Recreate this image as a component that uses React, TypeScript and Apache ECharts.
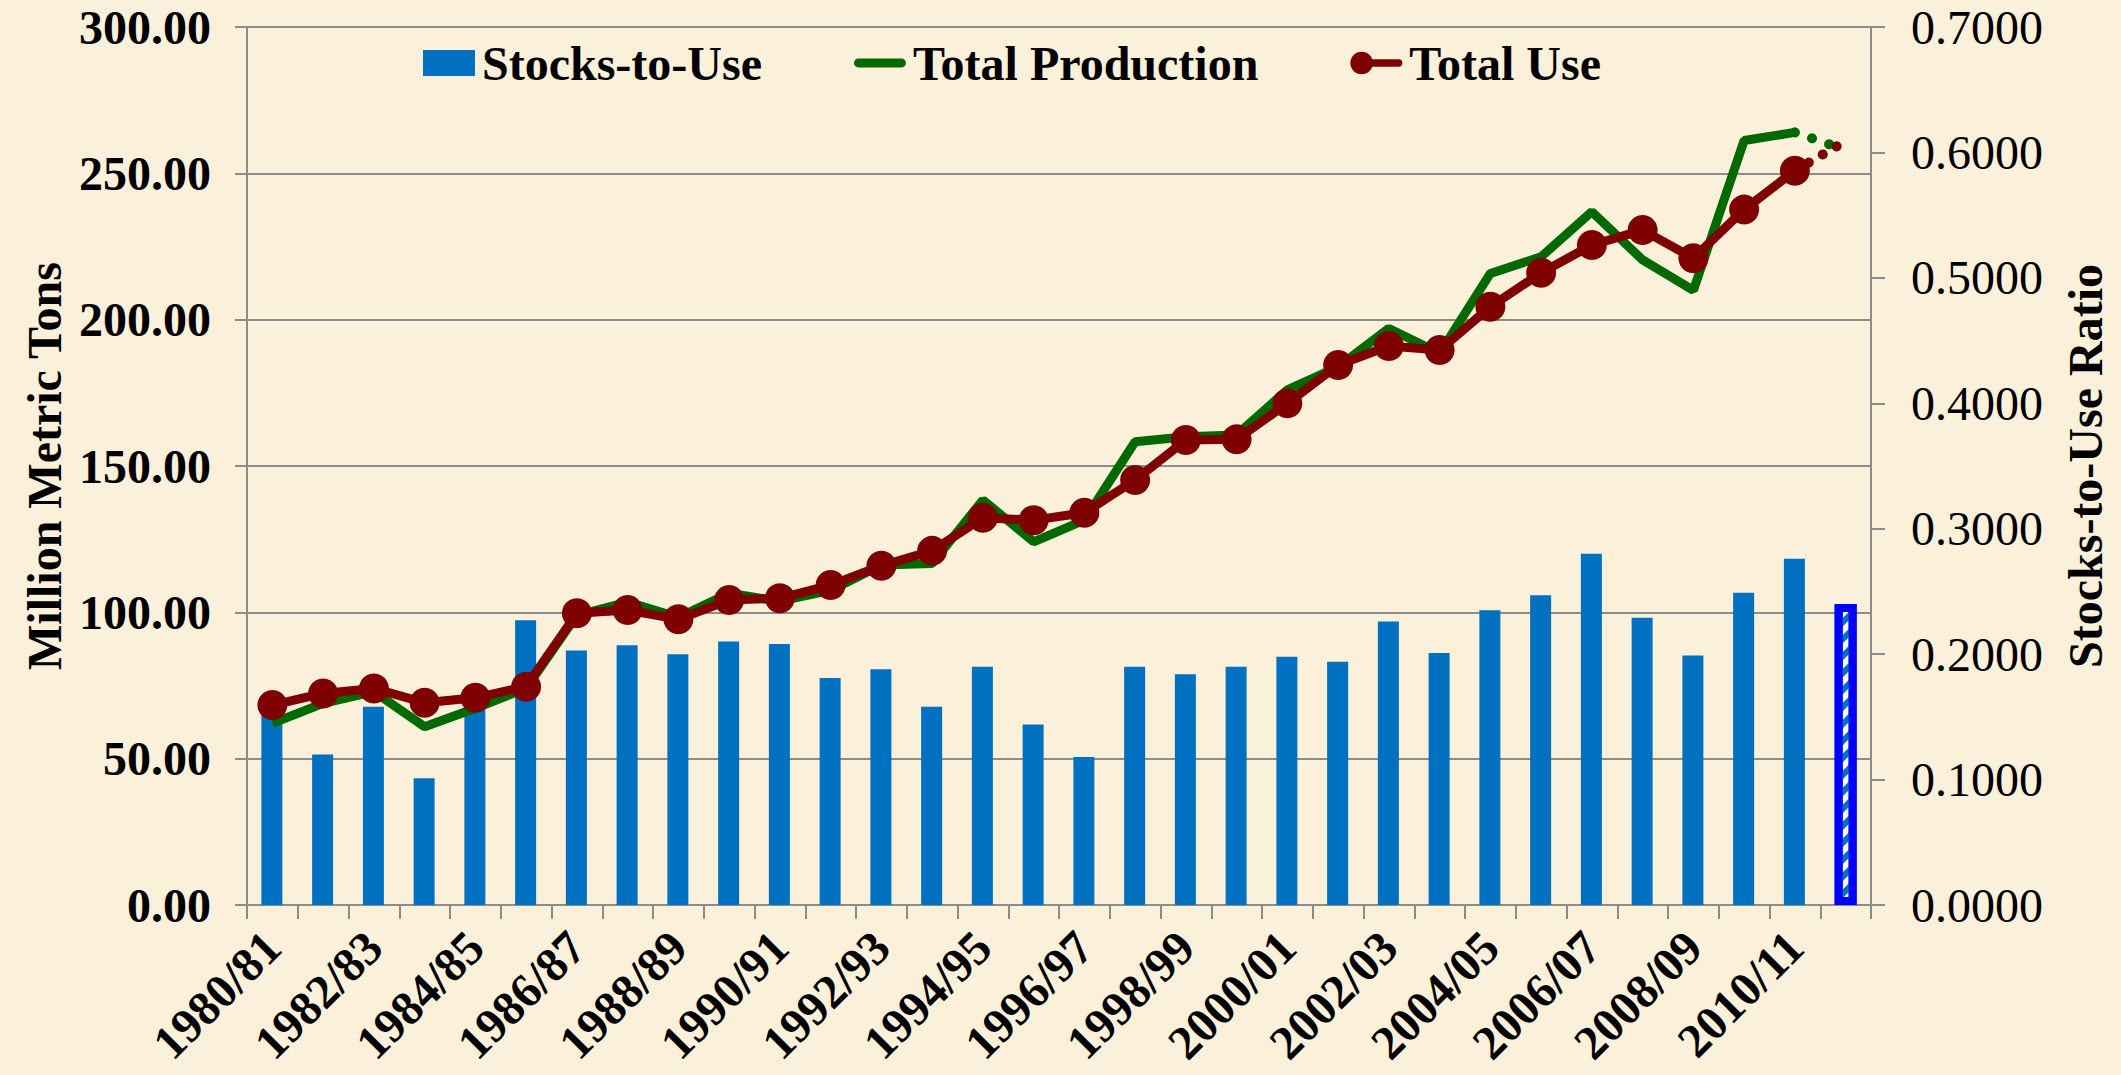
import React, { useEffect, useRef } from "react";
import * as echarts from "echarts";

const categories = [
  "1980/81", "1981/82", "1982/83", "1983/84", "1984/85", "1985/86", "1986/87", "1987/88",
  "1988/89", "1989/90", "1990/91", "1991/92", "1992/93", "1993/94", "1994/95", "1995/96",
  "1996/97", "1997/98", "1998/99", "1999/00", "2000/01", "2001/02", "2002/03", "2003/04",
  "2004/05", "2005/06", "2006/07", "2007/08", "2008/09", "2009/10", "2010/11", "2011/12",
];

// Stocks-to-use ratio (right axis), 1980/81 .. 2010/11
const stocksToUse = [
  0.153, 0.120, 0.158, 0.101, 0.158, 0.227, 0.203, 0.207,
  0.200, 0.210, 0.208, 0.181, 0.188, 0.158, 0.190, 0.144,
  0.118, 0.190, 0.184, 0.190, 0.198, 0.194, 0.226, 0.201,
  0.235, 0.247, 0.280, 0.229, 0.199, 0.249, 0.276,
];
// Projected stocks-to-use for 2011/12 (hatched bar)
const stocksToUseProjection = 0.240;

// Million metric tons, 1980/81 .. 2010/11
const totalProduction = [
  62.1, 68.9, 72.9, 60.9, 67.2, 74.0, 99.0, 103.5,
  98.3, 106.5, 103.8, 107.5, 116.2, 116.7, 138.4, 124.1,
  131.5, 158.3, 160.0, 160.6, 176.0, 183.9, 197.0, 188.5,
  215.8, 221.5, 236.9, 220.4, 210.0, 261.2, 264.0,
];
const totalUse = [
  68.3, 72.3, 74.0, 69.1, 70.8, 74.6, 99.7, 100.8,
  97.6, 104.2, 104.8, 109.3, 115.9, 121.0, 132.3, 131.5,
  134.0, 145.2, 158.9, 159.1, 171.4, 184.5, 191.0, 189.6,
  204.4, 216.0, 225.5, 230.6, 221.0, 237.6, 250.9,
];
// Projection for 2011/12 (dotted segments)
const productionProjection = 258.0;
const useProjection = 261.0;

const FONT = '"Liberation Serif", "Times New Roman", serif';
const GRAY = "#8C8C8C";
const BLUE = "#0070C0";
const GREEN = "#006A00";
const RED = "#7F0000";

export default function App() {
  const ref = useRef<HTMLDivElement>(null);

  useEffect(() => {
    if (!ref.current) return;
    const chart = echarts.init(ref.current, undefined, { renderer: "svg" });

    const n = categories.length;
    const barData = categories.map((_, i) => (i < stocksToUse.length ? stocksToUse[i] : null));
    const hatchData = categories.map((_, i) => (i === n - 1 ? stocksToUseProjection : null));
    const prodProj = categories.map((_, i) =>
      i === n - 2 ? totalProduction[totalProduction.length - 1] : i === n - 1 ? productionProjection : null
    );
    const useProj = categories.map((_, i) =>
      i === n - 2 ? totalUse[totalUse.length - 1] : i === n - 1 ? useProjection : null
    );

    const boldText = { fontFamily: FONT, fontSize: 48, fontWeight: "bold" as const, color: "#000" };

    chart.setOption({
      animation: false,
      backgroundColor: "#FBF0DA",
      textStyle: { fontFamily: FONT },
      legend: {
        left: 418,
        top: 34,
        itemWidth: 52,
        itemHeight: 26,
        itemGap: 92,
        data: [
          { name: "Stocks-to-Use", icon: "rect" },
          {
            name: "Total Production",
            icon: "path://M4,0 H48 A4,4 0 0,1 48,9 H4 A4,4 0 0,1 4,0 Z",
          },
          {
            name: "Total Use",
            icon: "path://M0,14 A14,14 0 1,1 28,14 A14,14 0 1,1 0,14 Z M20,9.5 H60 A4.5,4.5 0 0,1 60,18.5 H20 Z",
          },
        ],
        textStyle: { ...boldText, padding: [0, 0, 0, 2] },
      },
      grid: { left: 247, right: 250, top: 27, bottom: 170 },
      xAxis: {
        type: "category",
        data: categories,
        boundaryGap: true,
        axisLine: { show: true, lineStyle: { color: GRAY, width: 2 } },
        axisTick: { show: true, interval: 0, length: 14, lineStyle: { color: GRAY, width: 2 } },
        axisLabel: { ...boldText, interval: 1, rotate: 45, margin: 34 },
        splitLine: { show: false },
      },
      yAxis: [
        {
          type: "value",
          position: "left",
          min: 0,
          max: 300,
          interval: 50,
          name: "Million Metric Tons",
          nameLocation: "middle",
          nameGap: 172,
          nameRotate: 90,
          nameTextStyle: boldText,
          axisLine: { show: true, lineStyle: { color: GRAY, width: 2 } },
          axisTick: { show: true, length: 12, lineStyle: { color: GRAY, width: 2 } },
          axisLabel: { ...boldText, margin: 36, formatter: (v: number) => v.toFixed(2) },
          splitLine: { show: true, lineStyle: { color: GRAY, width: 2 } },
        },
        {
          type: "value",
          position: "right",
          min: 0,
          max: 0.7,
          interval: 0.1,
          name: "Stocks-to-Use Ratio",
          nameLocation: "middle",
          nameGap: 190,
          nameRotate: 90,
          nameTextStyle: boldText,
          axisLine: { show: true, lineStyle: { color: GRAY, width: 2 } },
          axisTick: { show: true, length: 14, lineStyle: { color: GRAY, width: 2 } },
          axisLabel: {
            fontFamily: FONT,
            fontSize: 48,
            color: "#000",
            margin: 40,
            formatter: (v: number) => v.toFixed(4),
          },
          splitLine: { show: false },
        },
      ],
      series: [
        {
          name: "Stocks-to-Use",
          type: "bar",
          yAxisIndex: 1,
          barWidth: 21,
          itemStyle: { color: BLUE },
          data: barData,
          z: 2,
        },
        {
          name: "Stocks-to-Use projection",
          type: "bar",
          yAxisIndex: 1,
          barWidth: 22,
          barGap: "-100%",
          itemStyle: {
            color: "#FFFFFF",
            borderColor: "#0000FF",
            borderWidth: 8,
            decal: {
              symbol: "rect",
              symbolSize: 1,
              color: BLUE,
              dashArrayX: [1, 0],
              dashArrayY: [6, 6],
              rotation: -Math.PI / 4,
            },
          },
          data: hatchData,
          z: 2,
        },
        {
          name: "Total Production",
          type: "line",
          yAxisIndex: 0,
          data: totalProduction,
          symbol: "none",
          lineStyle: { color: GREEN, width: 9 },
          itemStyle: { color: GREEN },
          z: 3,
        },
        {
          name: "Total Use",
          type: "line",
          yAxisIndex: 0,
          data: totalUse,
          symbol: "circle",
          symbolSize: 30,
          lineStyle: { color: RED, width: 9 },
          itemStyle: { color: RED },
          z: 4,
        },
        {
          name: "Production projection",
          type: "line",
          yAxisIndex: 0,
          data: prodProj,
          symbol: "none",
          lineStyle: { color: GREEN, width: 10, type: [0.1, 18], cap: "round" },
          z: 3,
        },
        {
          name: "Use projection",
          type: "line",
          yAxisIndex: 0,
          data: useProj,
          symbol: "none",
          lineStyle: { color: RED, width: 10, type: [0.1, 16], cap: "round" },
          z: 4,
        },
      ],
    });

    return () => chart.dispose();
  }, []);

  return (
    <div
      ref={ref}
      style={{ position: "fixed", left: 0, top: 0, width: 2121, height: 1075 }}
    />
  );
}
